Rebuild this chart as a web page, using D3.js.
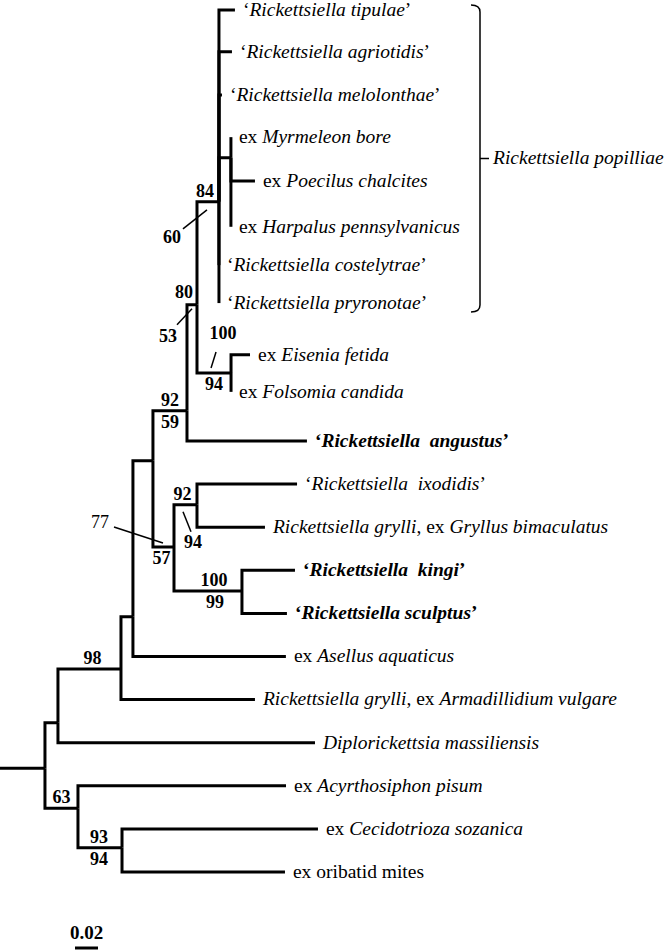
<!DOCTYPE html>
<html>
<head>
<meta charset="utf-8">
<script src="https://cdn.jsdelivr.net/npm/d3@7"></script>
<style>
  body { margin: 0; background: #fff; }
  svg { display: block; }
  text { font-family: "Liberation Serif", "Times New Roman", serif; fill: #000; white-space: pre; }
</style>
</head>
<body>
<svg id="tree" width="666" height="950"></svg>
<script>
'use strict';

// leaf labels: '*' toggles italic
const leafNames = [
    '‘*Rickettsiella tipulae*’',
    '‘*Rickettsiella agriotidis*’',
    '‘*Rickettsiella melolonthae*’',
    'ex *Myrmeleon bore*',
    'ex *Poecilus chalcites*',
    'ex *Harpalus pennsylvanicus*',
    '‘*Rickettsiella costelytrae*’',
    '‘*Rickettsiella pryronotae*’',
    'ex *Eisenia fetida*',
    'ex *Folsomia candida*',
    '‘*Rickettsiella  angustus*’',
    '‘*Rickettsiella  ixodidis*’',
    '*Rickettsiella grylli*, ex *Gryllus bimaculatus*',
    '‘*Rickettsiella  kingi*’',
    '‘*Rickettsiella sculptus*’',
    'ex *Asellus aquaticus*',
    '*Rickettsiella grylli*, ex *Armadillidium vulgare*',
    '*Diplorickettsia massiliensis*',
    'ex *Acyrthosiphon pisum*',
    'ex *Cecidotrioza sozanica*',
    'ex oribatid mites'
];
const leafBold = [0,0,0,0,0,0,0,0,0,0,1,0,0,1,1,0,0,0,0,0,0];
const leafParent = ['N84','N84','N84','M3','M3','M3','N84','N84','EF','EF','X',
    'W','W','V','V','U','N98','A','B','N93','N93'];
const leafLength = [0.0139,0.0113,0.0026,0,0.0209,0,0,0,0.0165,0,0.1043,
    0.0870,0.0591,0.0461,0.0391,0.1330,0.1165,0.2235,0.1809,0.1704,0.1417];
const leafRow = [0,0.97,1.97,2.95,3.97,5.03,5.92,6.8,8.0,8.86,10,
    11,12,13,14,15,16,17,18,19,20];

const innerIds    = ['root','A','N98','U','Y','X','N80','N84','M3','EF','Z','W','V','B','N93'];
const innerParent = ['','root','A','N98','U','Y','X','N80','N84','N80','Y','Z','Z','root','B'];
const innerLength = [0.0391,0.0113,0.0548,0.0104,0.0174,0.0296,0.0087,0.0191,0.0104,
    0.0296,0.0183,0.0200,0.0591,0.0287,0.0383];
const innerRow    = [17.59,16.54,15.29,14.08,10.46,9.30,6.84,4.45,3.43,8.42,12.46,
    11.48,13.48,18.52,19.44];

// bootstrap values on the stem of each node
const supportNode  = ['N84','N80','EF','X','Z','W','V','N98','B','N93'];
const supportAbove = ['84','80','100','92','77','92','100','98','63','93'];
const supportBelow = ['60','53','94','59','57','94','99','','','94'];

const cladeName = 'Rickettsiella popilliae';
const cladeFirst = 0, cladeLast = 7;
const scaleValue = 0.02;

// ---- layout ----
const svg = d3.select('#tree');
const x = d3.scaleLinear().domain([0, scaleValue]).range([0, 23]);
const y = d3.scaleLinear().domain([0, 20]).range([10, 872]);
const LABEL_GAP = 8;

const table = innerIds.map(function(id, i) {
    return {id: id, parent: innerParent[i], length: innerLength[i], row: innerRow[i]};
}).concat(leafNames.map(function(name, i) {
    return {id: 'leaf' + i, parent: leafParent[i], length: leafLength[i], row: leafRow[i],
        name: name, bold: leafBold[i]};
}));

const root = d3.stratify()
    .id(function(d) { return d.id; })
    .parentId(function(d) { return d.parent || null; })(table);

root.each(function(d) {
    d.dist = (d.parent ? d.parent.dist : 0) + d.data.length;
});

const g = svg.append('g');

// branches
g.append('path')
    .attr('fill', 'none')
    .attr('stroke', '#000')
    .attr('stroke-width', 3)
    .attr('d', 'M' + x(0) + ',' + y(root.data.row) + 'H' + x(root.dist));

g.selectAll('.branch')
    .data(root.descendants().slice(1))
    .enter().append('path')
    .attr('class', 'branch')
    .attr('fill', 'none')
    .attr('stroke', '#000')
    .attr('stroke-width', 3)
    .attr('stroke-linejoin', 'miter')
    .attr('d', function(d) {
        return 'M' + x(d.parent.dist) + ',' + y(d.parent.data.row) +
            'V' + y(d.data.row) + 'H' + x(d.dist);
    });

// leaf labels
const leaves = g.selectAll('.leaf')
    .data(root.leaves())
    .enter().append('text')
    .attr('class', 'leaf')
    .attr('x', function(d) { return x(d.dist) + LABEL_GAP; })
    .attr('y', function(d) { return y(d.data.row); })
    .attr('dy', '0.3em')
    .style('font-size', '19.5px')
    .style('font-weight', function(d) { return d.data.bold ? 'bold' : 'normal'; });

leaves.each(function(d) {
    const parts = d.data.name.split('*');
    const t = d3.select(this);
    parts.forEach(function(p, i) {
        if (!p) return;
        t.append('tspan')
            .style('font-style', i % 2 ? 'italic' : 'normal')
            .text(p);
    });
});

// support values; nudges and callouts per label
const nudge = {
    'N84a': {dx: -3}, 'N84b': {dx: -36, dy: 41, lead: [-1, 8, -25, 27]},
    'N80a': {dx: -8, dy: -7}, 'N80b': {dx: -24, dy: 37, lead: [0, 4, -15, 20]},
    'EFa': {dx: 9, dy: -34, lead: [2, -21, -3, -5]}, 'EFb': {dx: 0},
    'Za': {dx: -63.5, dy: -19, lead: [-49.5, -20, -0.5, -4], light: true}, 'Zb': {dx: -2},
    'Wa': {dx: -3}, 'Wb': {dx: 7.5, dy: 43, lead: [-2.5, 7, 5.5, 27]},
    'Va': {dx: 6}, 'Vb': {dx: 7},
    'N98a': {dx: 3}, 'N93a': {dx: -1}, 'N93b': {dx: -1}
};
const byId = {};
root.each(function(d) { byId[d.id] = d; });

const supports = [];
supportNode.forEach(function(id, i) {
    [['a', supportAbove[i], -5], ['b', supportBelow[i], 17]].forEach(function(s) {
        if (!s[1]) return;
        const n = byId[id];
        const o = nudge[id + s[0]] || {};
        supports.push({
            text: s[1],
            mx: (x(n.parent.dist) + x(n.dist)) / 2,
            my: y(n.data.row),
            dx: o.dx || 0,
            dy: o.dy !== undefined ? o.dy : s[2],
            lead: o.lead,
            light: o.light
        });
    });
});

g.selectAll('.support')
    .data(supports)
    .enter().append('text')
    .attr('class', 'support')
    .attr('x', function(d) { return d.mx + d.dx; })
    .attr('y', function(d) { return d.my + d.dy; })
    .attr('text-anchor', 'middle')
    .style('font-size', '18px')
    .style('font-weight', function(d) { return d.light ? 'normal' : 'bold'; })
    .text(function(d) { return d.text; });

g.selectAll('.leader')
    .data(supports.filter(function(d) { return d.lead; }))
    .enter().append('line')
    .attr('class', 'leader')
    .attr('stroke', '#000')
    .attr('stroke-width', 1.5)
    .attr('x1', function(d) { return d.mx + d.lead[0]; })
    .attr('y1', function(d) { return d.my + d.lead[1]; })
    .attr('x2', function(d) { return d.mx + d.lead[2]; })
    .attr('y2', function(d) { return d.my + d.lead[3]; });

// clade bracket
const bx = 480;
const bTop = y(leafRow[cladeFirst]) - 5;
const bBottom = y(leafRow[cladeLast]) + 9;
const bMid = (bTop + bBottom) / 2;
g.append('path')
    .attr('fill', 'none')
    .attr('stroke', '#000')
    .attr('stroke-width', 1.5)
    .attr('d', 'M' + (bx - 9) + ',' + bTop + 'Q' + bx + ',' + bTop + ' ' + bx + ',' + (bTop + 7) +
        'V' + (bBottom - 7) + 'Q' + bx + ',' + bBottom + ' ' + (bx - 9) + ',' + bBottom +
        'M' + bx + ',' + bMid + 'H' + (bx + 9));
g.append('text')
    .attr('x', bx + 13)
    .attr('y', bMid)
    .attr('dy', '0.3em')
    .style('font-size', '19.5px')
    .style('font-style', 'italic')
    .text(cladeName);

// scale bar
const sx = 75, sy = 948;
g.append('line')
    .attr('stroke', '#000')
    .attr('stroke-width', 3)
    .attr('x1', sx).attr('x2', sx + x(scaleValue) - x(0))
    .attr('y1', sy).attr('y2', sy);
g.append('text')
    .attr('x', sx + (x(scaleValue) - x(0)) / 2)
    .attr('y', sy - 9)
    .attr('text-anchor', 'middle')
    .style('font-size', '19px')
    .style('font-weight', 'bold')
    .text(String(scaleValue));
</script>
</body>
</html>
